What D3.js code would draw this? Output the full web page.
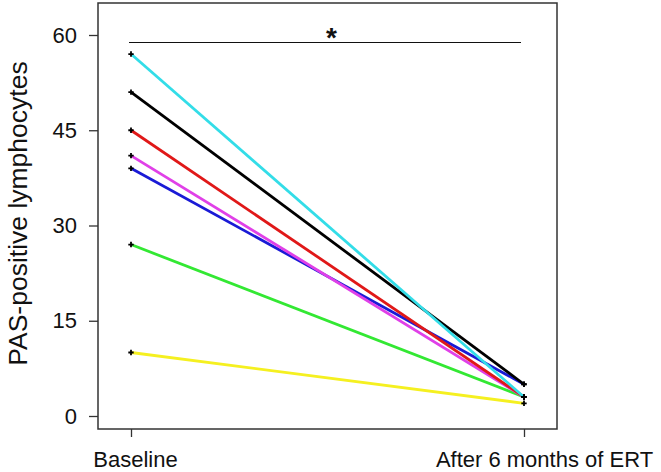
<!DOCTYPE html>
<html><head><meta charset="utf-8">
<script src="https://cdn.jsdelivr.net/npm/d3@7/dist/d3.min.js"></script>
<style>body{margin:0;background:#fff}svg{display:block}</style>
</head><body><svg id="c" width="661" height="472"></svg>
<script>
const timepoints = ["Baseline", "After 6 months of ERT"];
const yTicks = [0, 15, 30, 45, 60];
const seriesColors = ["#f5f020", "#33e833", "#1a1ad6", "#e040e8", "#e01818", "#000000", "#33dde8"];
const baselineValues = [10, 27, 39, 41, 45, 51, 57];
const afterValues = [2, 3, 5, 3, 3, 5, 3];
const sigLevel = 58.9;
const sigLabel = "*";
const yTitle = "PAS-positive lymphocytes";

const svg = d3.select("#c");
const box = {l: 98, r: 557, t: 3, b: 429};
const x = d3.scalePoint().domain(timepoints).range([131, 524]);
const y = d3.scaleLinear().domain([0, 60]).range([416, 35]);
const font = "'Liberation Sans', Arial, sans-serif";

// frame
svg.append("rect").attr("x", box.l).attr("y", box.t).attr("width", box.r - box.l).attr("height", box.b - box.t)
  .attr("fill", "none").attr("stroke", "#333").attr("stroke-width", 1.5);

// y axis
const ya = svg.append("g").attr("transform", `translate(${box.l},0)`)
  .call(d3.axisLeft(y).tickValues(yTicks).tickSize(9).tickPadding(12));
ya.select(".domain").remove();
ya.selectAll("line").attr("stroke", "#333").attr("stroke-width", 1.3);
ya.selectAll("text").attr("font-family", font).attr("font-size", 22).attr("fill", "#111");

// x axis
const labelShift = [4, 20];
const xa = svg.append("g").attr("transform", `translate(0,${box.b})`)
  .call(d3.axisBottom(x).tickSize(8).tickPadding(14));
xa.select(".domain").remove();
xa.selectAll("line").attr("stroke", "#333").attr("stroke-width", 1.3);
xa.selectAll("text").attr("font-family", font).attr("font-size", 22).attr("fill", "#111")
  .attr("dx", (d, i) => labelShift[i]);

// y title
svg.append("text").attr("transform", `translate(27,213.5) rotate(-90)`)
  .attr("text-anchor", "middle").attr("font-family", font).attr("font-size", 26.5).attr("fill", "#111")
  .text(yTitle);

// lines
const data = baselineValues.map((v, i) => ({c: seriesColors[i], pts: [[timepoints[0], v], [timepoints[1], afterValues[i]]]}));
const line = d3.line().x(d => x(d[0])).y(d => y(d[1]));
svg.append("g").selectAll("path").data(data).join("path")
  .attr("d", d => line(d.pts)).attr("fill", "none").attr("stroke", d => d.c).attr("stroke-width", 2.8);

// plus markers
const pts = data.flatMap(d => d.pts);
svg.append("g").selectAll("path").data(pts).join("path")
  .attr("d", d3.symbol().type(d3.symbolCross).size(16))
  .attr("transform", d => `translate(${x(d[0])},${y(d[1])})`)
  .attr("fill", "#000");

// significance bar
const sy = Math.round(y(sigLevel)) + 0.5;
svg.append("line").attr("x1", x(timepoints[0]) - 2).attr("x2", x(timepoints[1]) - 3)
  .attr("y1", sy).attr("y2", sy).attr("stroke", "#111").attr("stroke-width", 1.2);
svg.append("text").attr("x", (x(timepoints[0]) + x(timepoints[1])) / 2 + 4).attr("y", y(sigLevel) + 5)
  .attr("text-anchor", "middle").attr("font-family", font).attr("font-size", 28).attr("font-weight", "bold")
  .attr("fill", "#111").text(sigLabel);
</script></body></html>
